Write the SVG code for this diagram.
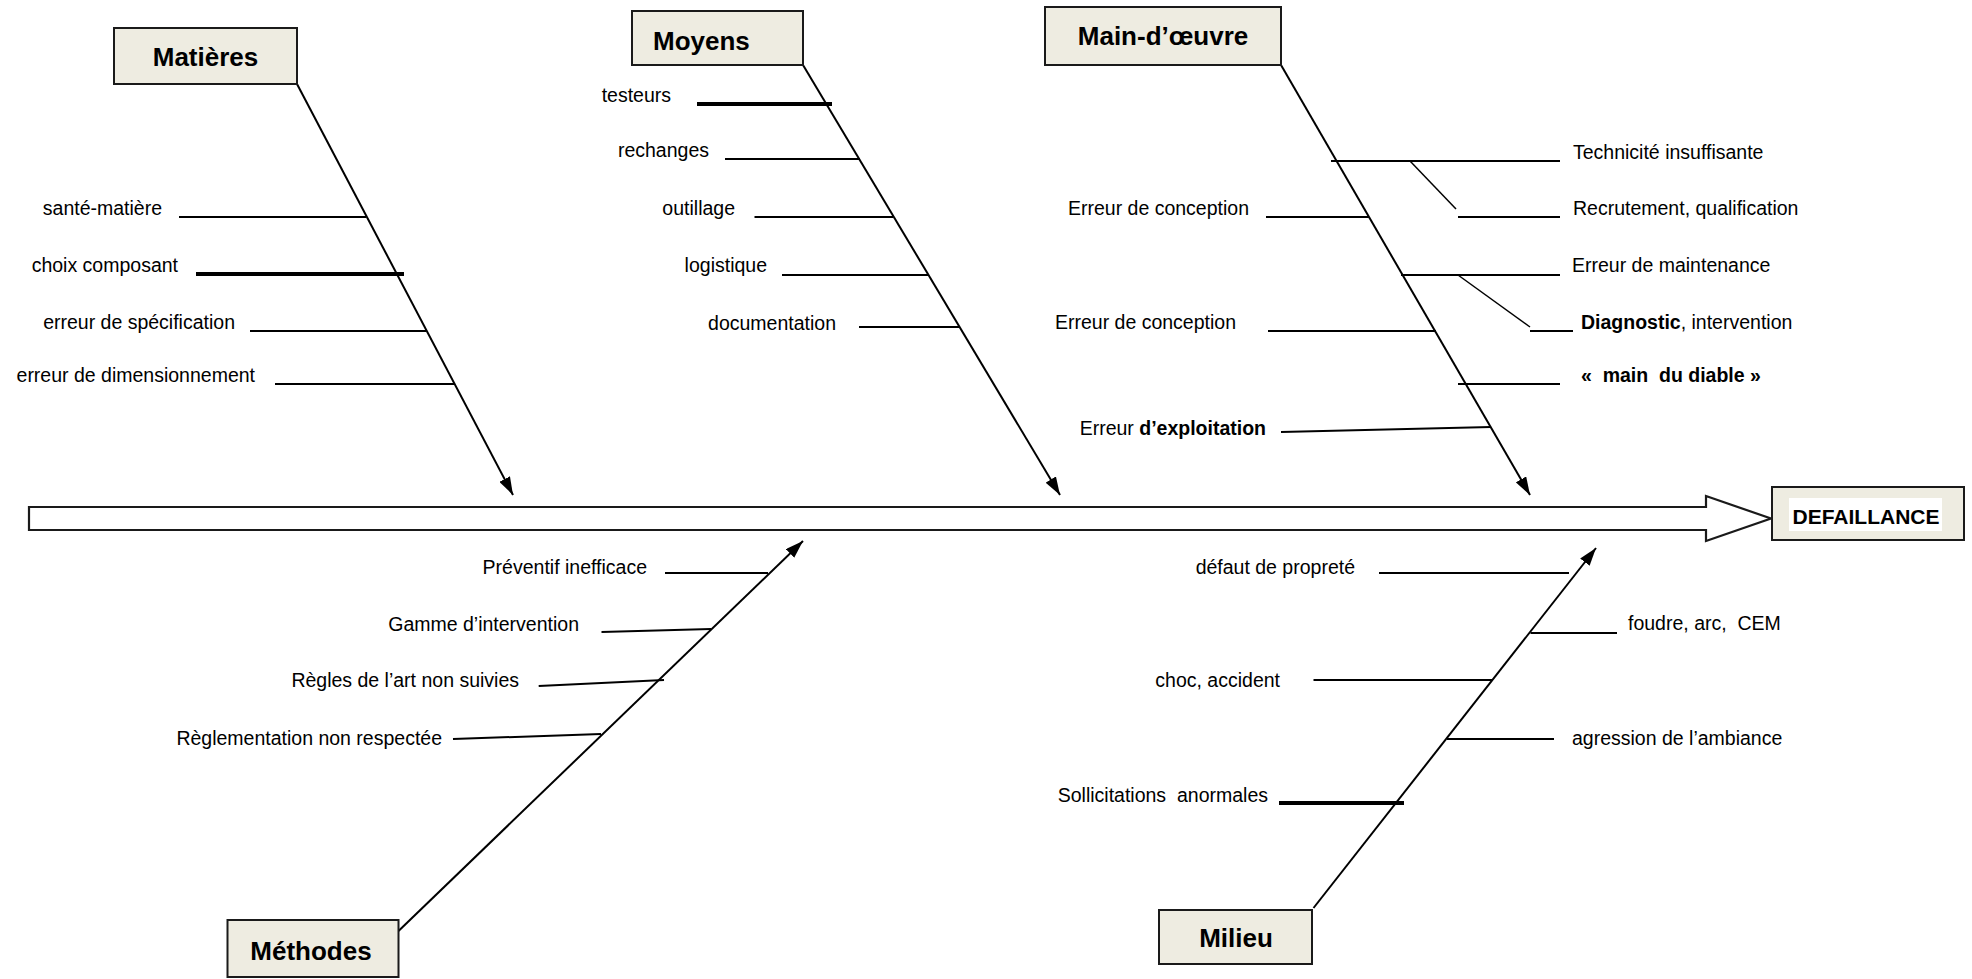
<svg xmlns="http://www.w3.org/2000/svg" width="1972" height="979" viewBox="0 0 1972 979">
<style>
.box{fill:#EEECE1;stroke:#1a1a1a;stroke-width:2}
.hdr{font-family:"Liberation Sans",Arial,sans-serif;font-weight:bold;font-size:26px;fill:#000}
.lbl{font-family:"Liberation Sans",Arial,sans-serif;font-size:19.5px;fill:#000}
.b{font-weight:bold}
.end{text-anchor:end}
.mid{text-anchor:middle}
.spine{stroke:#000;stroke-width:2;fill:none;marker-end:url(#ah)}
.rib{stroke:#000;stroke-width:2;fill:none}
.thick{stroke-width:4}
.sub{stroke-width:1.5}
</style>
<defs>
<marker id="ah" viewBox="0 0 18 12" refX="18" refY="6" markerWidth="18" markerHeight="12" markerUnits="userSpaceOnUse" orient="auto">
<path d="M0,0 L18,6 L0,12 z" fill="#000"/>
</marker>
</defs>
<rect width="1972" height="979" fill="#fff"/>

<g id="connectors">
<polygon id="main-arrow" points="29,507 1706,507 1706,496 1771,518.5 1706,541 1706,530 29,530" fill="#fff" stroke="#1a1a1a" stroke-width="2.2"/>
<line class="spine" x1="297" y1="84" x2="513" y2="495"/>
<line class="spine" x1="803" y1="65" x2="1060" y2="495"/>
<line class="spine" x1="1281" y1="65" x2="1530" y2="495"/>
<line class="spine" x1="398.5" y1="931" x2="803" y2="541"/>
<line class="spine" x1="1313.5" y1="908" x2="1596" y2="548"/>

<line class="rib" x1="179" y1="217" x2="366" y2="217"/>
<line class="rib thick" x1="196" y1="274" x2="404" y2="274"/>
<line class="rib" x1="250" y1="331" x2="426" y2="331"/>
<line class="rib" x1="275" y1="384" x2="455" y2="384"/>

<line class="rib thick" x1="697" y1="104" x2="832" y2="104"/>
<line class="rib" x1="725" y1="159" x2="860" y2="159"/>
<line class="rib" x1="754.5" y1="217" x2="893" y2="217"/>
<line class="rib" x1="782" y1="275" x2="929" y2="275"/>
<line class="rib" x1="859" y1="327" x2="960" y2="327"/>

<line class="rib" x1="1331" y1="161" x2="1560" y2="161"/>
<line class="rib sub" x1="1410" y1="161" x2="1456" y2="209"/>
<line class="rib" x1="1458" y1="217" x2="1560" y2="217"/>
<line class="rib" x1="1266" y1="217" x2="1369" y2="217"/>
<line class="rib" x1="1401" y1="275" x2="1560" y2="275"/>
<line class="rib sub" x1="1458" y1="275" x2="1530" y2="327"/>
<line class="rib" x1="1530" y1="331" x2="1573" y2="331"/>
<line class="rib" x1="1268" y1="331" x2="1436" y2="331"/>
<line class="rib" x1="1458" y1="384" x2="1560" y2="384"/>
<line class="rib" x1="1281" y1="432" x2="1491" y2="427"/>

<line class="rib" x1="665" y1="573" x2="768" y2="573"/>
<line class="rib" x1="601.5" y1="632" x2="711" y2="629"/>
<line class="rib" x1="538.7" y1="686" x2="664" y2="680"/>
<line class="rib" x1="453" y1="739" x2="601" y2="734"/>

<line class="rib" x1="1379" y1="573" x2="1569" y2="573"/>
<line class="rib" x1="1530.5" y1="633" x2="1617" y2="633"/>
<line class="rib" x1="1313.5" y1="680" x2="1492" y2="680"/>
<line class="rib" x1="1447" y1="739" x2="1554" y2="739"/>
<line class="rib thick" x1="1279" y1="803" x2="1404" y2="803"/>
</g>

<g id="node-matieres">
<rect class="box" x="114" y="28" width="183" height="56"/>
<text class="hdr mid" x="205.5" y="66">Matières</text>
</g>
<g id="node-moyens">
<rect class="box" x="632" y="11" width="171" height="54"/>
<text class="hdr" x="653" y="50">Moyens</text>
</g>
<g id="node-main-oeuvre">
<rect class="box" x="1045" y="7" width="236" height="58"/>
<text class="hdr mid" x="1163" y="45">Main-d’œuvre</text>
</g>
<g id="node-methodes">
<rect class="box" x="227.5" y="920" width="171" height="57"/>
<text class="hdr mid" x="311" y="960">Méthodes</text>
</g>
<g id="node-milieu">
<rect class="box" x="1159" y="910" width="153" height="54"/>
<text class="hdr mid" x="1236" y="947">Milieu</text>
</g>
<g id="node-defaillance">
<rect class="box" x="1772" y="487" width="192" height="53"/>
<rect x="1789" y="498" width="153" height="33" fill="#fff"/>
<text class="hdr mid" x="1866" y="523.5" style="font-size:21px">DEFAILLANCE</text>
</g>

<g id="labels-matieres">
<text class="lbl end" x="162" y="215">santé-matière</text>
<text class="lbl end" x="178" y="272">choix composant</text>
<text class="lbl end" x="235" y="329">erreur de spécification</text>
<text class="lbl end" x="255" y="382">erreur de dimensionnement</text>
</g>
<g id="labels-moyens">
<text class="lbl end" x="671" y="102">testeurs</text>
<text class="lbl end" x="709" y="157">rechanges</text>
<text class="lbl end" x="735" y="215">outillage</text>
<text class="lbl end" x="767" y="272">logistique</text>
<text class="lbl end" x="836" y="330">documentation</text>
</g>
<g id="labels-main-oeuvre">
<text class="lbl" x="1573" y="159">Technicité insuffisante</text>
<text class="lbl" x="1573" y="215">Recrutement, qualification</text>
<text class="lbl end" x="1249" y="215">Erreur de conception</text>
<text class="lbl" x="1572" y="272">Erreur de maintenance</text>
<text class="lbl" x="1581" y="329"><tspan class="b">Diagnostic</tspan>, intervention</text>
<text class="lbl end" x="1236" y="329">Erreur de conception</text>
<text class="lbl b" x="1581" y="382">«&#160; main&#160; du diable »</text>
<text class="lbl end" x="1266" y="435">Erreur <tspan class="b">d’exploitation</tspan></text>
</g>
<g id="labels-methodes">
<text class="lbl end" x="647" y="574">Préventif inefficace</text>
<text class="lbl end" x="579" y="631">Gamme d’intervention</text>
<text class="lbl end" x="519" y="687">Règles de l’art non suivies</text>
<text class="lbl end" x="442" y="745">Règlementation non respectée</text>
</g>
<g id="labels-milieu">
<text class="lbl end" x="1355" y="574">défaut de propreté</text>
<text class="lbl" x="1628" y="630">foudre, arc,&#160; CEM</text>
<text class="lbl end" x="1280" y="687">choc, accident</text>
<text class="lbl" x="1572" y="745">agression de l’ambiance</text>
<text class="lbl end" x="1268" y="802">Sollicitations&#160; anormales</text>
</g>
</svg>
